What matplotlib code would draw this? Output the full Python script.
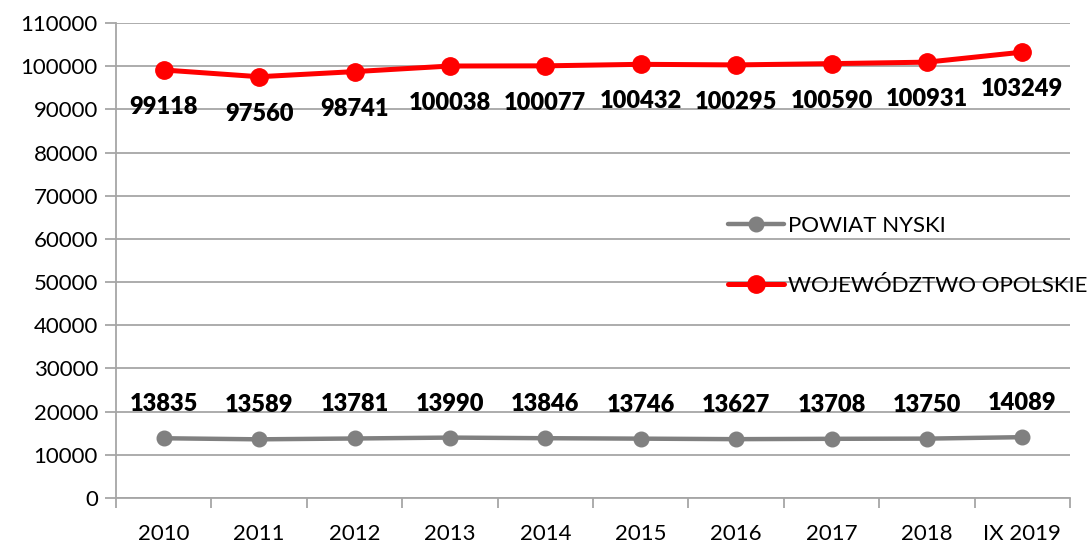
import matplotlib
matplotlib.use("Agg")
import matplotlib.pyplot as plt
from matplotlib.ticker import FixedLocator

categories = ["2010", "2011", "2012", "2013", "2014", "2015", "2016", "2017", "2018", "IX 2019"]
opolskie = [99118, 97560, 98741, 100038, 100077, 100432, 100295, 100590, 100931, 103249]
nyski = [13835, 13589, 13781, 13990, 13846, 13746, 13627, 13708, 13750, 14089]
y_ticks = list(range(0, 110001, 10000))

plt.rcParams['font.family'] = ['Lato', 'DejaVu Sans']
GRID = "#a6a6a6"

fig = plt.figure(figsize=(10.90, 5.43), dpi=100)
ax = fig.add_axes([116/1090, 1-498/543, (1070-116)/1090, (498-23)/543])
x = list(range(len(categories)))

ln_n, = ax.plot(x, nyski, color="#808080", lw=3.2, marker="o", ms=10.5, solid_capstyle="round",
                label="POWIAT NYSKI", zorder=3)
ln_o, = ax.plot(x, opolskie, color="#ff0000", lw=3.6, marker="o", ms=12.5, solid_capstyle="round",
                label="WOJEWÓDZTWO OPOLSKIE", zorder=3)

for xi, v in zip(x, opolskie):
    ax.annotate(f"{v}", (xi, v), xytext=(0, -37), textcoords="offset pixels",
                ha="center", va="center", fontsize=17, fontweight="heavy", color="black")
for xi, v in zip(x, nyski):
    ax.annotate(f"{v}", (xi, v), xytext=(0, 34), textcoords="offset pixels",
                ha="center", va="center", fontsize=17, fontweight="heavy", color="black")

ax.set_xlim(-0.5, len(categories) - 0.5)
ax.set_ylim(0, 110000)
ax.set_yticks(y_ticks)
ax.set_yticklabels([str(t) for t in y_ticks])
ax.set_xticks(x)
ax.set_xticklabels(categories)
ax.xaxis.set_minor_locator(FixedLocator([i - 0.5 for i in range(len(categories) + 1)]))
ax.tick_params(axis="x", which="major", length=0, pad=19, labelsize=16)
ax.tick_params(axis="x", which="minor", length=7, color=GRID, width=1.3)
ax.tick_params(axis="y", which="major", length=8, color=GRID, width=1.3, pad=5, labelsize=16)
ax.grid(axis="y", color=GRID, lw=1.3, zorder=0)
for s in ["top", "right"]:
    ax.spines[s].set_visible(False)
for s in ["left", "bottom"]:
    ax.spines[s].set_color(GRID)
    ax.spines[s].set_linewidth(1.3)

fig.legend(handles=[ln_n, ln_o], loc="upper left", bbox_to_anchor=(728/1090, 1-216/543),
           frameon=False, fontsize=16, handlelength=2.5, labelspacing=1.78, handletextpad=0.2,
           borderaxespad=0, borderpad=0)

fig.savefig("out.png", dpi=100)
